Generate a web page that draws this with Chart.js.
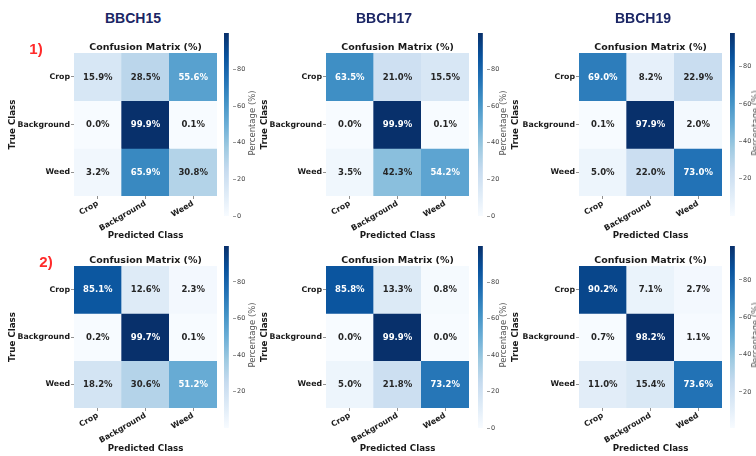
<!DOCTYPE html>
<html><head><meta charset="utf-8">
<script src="https://cdn.jsdelivr.net/npm/chart.js@4.4.0/dist/chart.umd.min.js"></script>
<style>
html,body{margin:0;padding:0;background:#fff;}
#wrap{position:relative;width:756px;height:456px;overflow:hidden;background:#fff;}
canvas{position:absolute;}
.lbl{position:absolute;white-space:nowrap;line-height:1;}
.stage{font:bold 14px "Liberation Sans",Arial,sans-serif;color:#1b2665;transform:translate(-50%,-50%);}
.rowl{font:bold 15px "Liberation Sans",Arial,sans-serif;color:#ff2a2a;transform:translate(-50%,-50%);}
.cbl{font:8.5px "DejaVu Sans",sans-serif;color:#555;transform:translate(-50%,-50%) rotate(-90deg);}
</style></head><body><div id="wrap"></div>
<script>
// ---------------- data ----------------
const classes = ['Crop', 'Background', 'Weed'];
const stageTitles = ['BBCH15', 'BBCH17', 'BBCH19'];
const rowLabels = ['1)', '2)'];
const chartTitle = 'Confusion Matrix (%)';
const xAxisTitle = 'Predicted Class';
const yAxisTitle = 'True Class';
const colorbarTitle = 'Percentage (%)';
const colorbarTicks = [0, 20, 40, 60, 80];
const cm1_BBCH15 = [[15.9, 28.5, 55.6], [0.0, 99.9, 0.1], [3.2, 65.9, 30.8]];
const cm1_BBCH17 = [[63.5, 21.0, 15.5], [0.0, 99.9, 0.1], [3.5, 42.3, 54.2]];
const cm1_BBCH19 = [[69.0, 8.2, 22.9], [0.1, 97.9, 2.0], [5.0, 22.0, 73.0]];
const cm2_BBCH15 = [[85.1, 12.6, 2.3], [0.2, 99.7, 0.1], [18.2, 30.6, 51.2]];
const cm2_BBCH17 = [[85.8, 13.3, 0.8], [0.0, 99.9, 0.0], [5.0, 21.8, 73.2]];
const cm2_BBCH19 = [[90.2, 7.1, 2.7], [0.7, 98.2, 1.1], [11.0, 15.4, 73.6]];
const matrices = [[cm1_BBCH15, cm1_BBCH17, cm1_BBCH19], [cm2_BBCH15, cm2_BBCH17, cm2_BBCH19]];

// ---------------- layout (pixels) ----------------
const G = {
  colL: [74, 326, 579], hmW: 143,
  rowT: [53, 266], hmH: [143, 142],
  cbX: [224, 478, 730], cbW: 9,
  cbTop: [33, 246], cbBot: [216, 428],
  trueX: [13, 265, 516], predY: [236, 449],
  stageX: [133, 384, 643], stageY: 17.5,
  rowLblPos: [[36, 47.5], [46, 260.5]],
  pctX: [252, 503, 755]
};

// ---------------- Blues colormap ----------------
const BLUES = [[247,251,255],[222,235,247],[198,219,239],[158,202,225],[107,174,214],[66,146,198],[33,113,181],[8,81,156],[8,48,107]];
function bluesRGB(t) {
  t = Math.max(0, Math.min(1, t));
  const p = t * (BLUES.length - 1);
  const i = Math.min(BLUES.length - 2, Math.floor(p));
  const f = p - i;
  return BLUES[i].map((a, k) => a + (BLUES[i + 1][k] - a) * f);
}
const rgbStr = c => `rgb(${c.map(v => Math.round(v)).join(',')})`;
function lum(c) {
  const l = c.map(v => { v /= 255; return v <= 0.03928 ? v / 12.92 : Math.pow((v + 0.055) / 1.055, 2.4); });
  return 0.2126 * l[0] + 0.7152 * l[1] + 0.0722 * l[2];
}

const wrap = document.getElementById('wrap');
function addLabel(cls, text, x, y) {
  const d = document.createElement('div');
  d.className = 'lbl ' + cls; d.textContent = text;
  d.style.left = x + 'px'; d.style.top = y + 'px';
  wrap.appendChild(d);
}
function addCanvas(left, top, w, h) {
  const cv = document.createElement('canvas');
  cv.width = w; cv.height = h;
  cv.style.left = left + 'px'; cv.style.top = top + 'px';
  cv.style.width = w + 'px'; cv.style.height = h + 'px';
  wrap.appendChild(cv);
  return cv;
}

const FONT = '"DejaVu Sans", sans-serif';

function makePanel(r, c) {
  const m = matrices[r][c];
  const flat = m.flat();
  const vmin = Math.min(...flat), vmax = Math.max(...flat);
  const norm = v => (v - vmin) / (vmax - vmin);

  const L = G.colL[c], T = G.rowT[r], R = L + G.hmW, B = T + G.hmH[r];
  const left = G.trueX[c] - 13, top = T - 12, bottom = G.predY[r] + 7, right = R + 4;
  const cv = addCanvas(left, top, right - left, bottom - top);

  const cellText = {
    id: 'cellText',
    afterDatasetsDraw(chart) {
      const { ctx, scales: { x, y } } = chart;
      ctx.save();
      ctx.font = 'bold 8.5px ' + FONT;
      ctx.textAlign = 'center'; ctx.textBaseline = 'middle';
      m.forEach((row, i) => row.forEach((v, j) => {
        const col = bluesRGB(norm(v));
        ctx.fillStyle = lum(col) > 0.408 ? '#262626' : '#ffffff';
        ctx.fillText(v.toFixed(1) + '%', x.getPixelForValue(j), y.getPixelForValue(i) + 0.5);
      }));
      ctx.restore();
    }
  };

  new Chart(cv, {
    type: 'bar',
    data: {
      labels: classes,
      datasets: m.map((row, i) => ({
        label: classes[i],
        data: row.map(() => [i - 0.5, i + 0.5]),
        backgroundColor: row.map(v => rgbStr(bluesRGB(norm(v)))),
        borderWidth: 0,
        barPercentage: 1, categoryPercentage: 1, grouped: false
      }))
    },
    options: {
      responsive: false, animation: false, devicePixelRatio: 1,
      layout: { padding: { left: 0, right: right - R, top: 0, bottom: 0 } },
      plugins: {
        legend: { display: false }, tooltip: { enabled: false },
        title: { display: true, text: chartTitle, fullSize: false, color: '#1a1a1a',
          font: { family: FONT, size: 9.5, weight: 'bold', lineHeight: 4 / 9.5 }, padding: { top: 5, bottom: 3 } }
      },
      scales: {
        x: {
          type: 'category', offset: true,
          grid: { display: true, offset: false, drawOnChartArea: false, drawTicks: true, tickLength: 3, color: '#444', lineWidth: 0.6 },
          border: { display: false },
          ticks: { minRotation: 30, maxRotation: 30, autoSkip: false, padding: 0, color: '#1a1a1a',
            font: { family: FONT, size: 7.8, weight: 'bold' } },
          title: { display: true, text: xAxisTitle, color: '#1a1a1a', padding: { top: 0, bottom: 1.8 },
            font: { family: FONT, size: 8.7, weight: 'bold', lineHeight: 1.2 } },
          afterFit: s => { s.height = bottom - B; }
        },
        y: {
          type: 'linear', min: -0.5, max: 2.5, reverse: true,
          afterBuildTicks: s => { s.ticks = classes.map((_, i) => ({ value: i })); },
          grid: { display: true, drawOnChartArea: false, drawTicks: true, tickLength: 3, color: '#444', lineWidth: 0.6 },
          border: { display: false },
          ticks: { padding: 1, color: '#1a1a1a', font: { family: FONT, size: 7.8, weight: 'bold' },
            callback: v => classes[v] },
          title: { display: true, text: yAxisTitle, color: '#1a1a1a', padding: { top: 7.8, bottom: 0 },
            font: { family: FONT, size: 8.7, weight: 'bold', lineHeight: 1.2 } },
          afterFit: s => { s.width = L - left; }
        }
      }
    },
    plugins: [cellText]
  });

  // colorbar
  const pad = 6;
  const cbTop = G.cbTop[r], cbBot = G.cbBot[r], cbX = G.cbX[c];
  const axisW = 22;
  const cv2 = addCanvas(cbX, cbTop - pad, G.cbW + axisW, cbBot - cbTop + 2 * pad);
  new Chart(cv2, {
    type: 'bar',
    data: {
      labels: [colorbarTitle],
      datasets: [{
        data: [[vmin, vmax]],
        backgroundColor: ctx => {
          const a = ctx.chart.chartArea;
          if (!a) return '#9ecae1';
          const g = ctx.chart.ctx.createLinearGradient(0, a.bottom, 0, a.top);
          for (let k = 0; k <= 32; k++) g.addColorStop(k / 32, rgbStr(bluesRGB(k / 32)));
          return g;
        },
        borderWidth: 0, barPercentage: 1, categoryPercentage: 1
      }]
    },
    options: {
      responsive: false, animation: false, devicePixelRatio: 1,
      layout: { padding: { top: pad, bottom: pad, left: 0, right: 0 } },
      plugins: { legend: { display: false }, tooltip: { enabled: false }, title: { display: false } },
      scales: {
        x: { display: false, offset: false },
        y: {
          position: 'right', min: vmin, max: vmax,
          afterBuildTicks: s => { s.ticks = colorbarTicks.filter(t => t >= vmin && t <= vmax).map(v => ({ value: v })); },
          grid: { display: true, drawOnChartArea: false, drawTicks: true, tickLength: 3, color: '#555', lineWidth: 0.6 },
          border: { display: false },
          ticks: { padding: 1, color: '#444', font: { family: FONT, size: 6.5 } },
          afterFit: s => { s.width = axisW; }
        }
      }
    }
  });
  addLabel('cbl', colorbarTitle, G.pctX[c], (cbTop + cbBot) / 2 - 2);
}

for (let r = 0; r < 2; r++) for (let c = 0; c < 3; c++) makePanel(r, c);
stageTitles.forEach((t, c) => addLabel('stage', t, G.stageX[c], G.stageY));
rowLabels.forEach((t, r) => addLabel('rowl', t, G.rowLblPos[r][0], G.rowLblPos[r][1]));
</script></body></html>
